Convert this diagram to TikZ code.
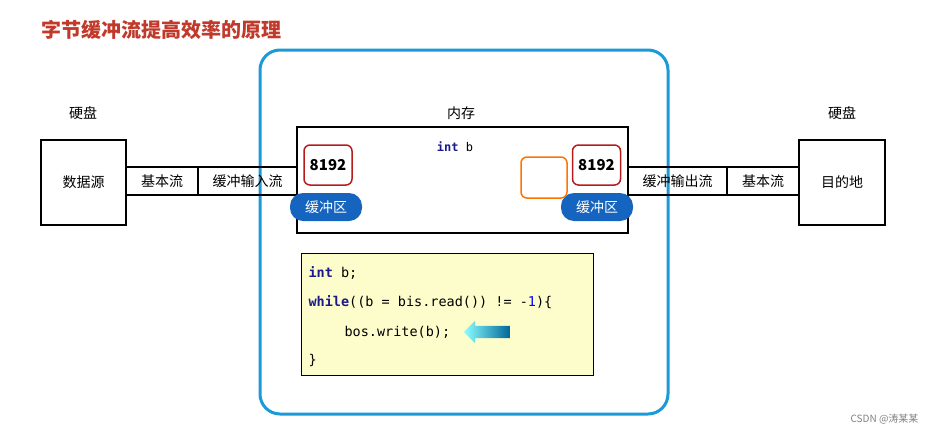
\documentclass[tikz,border=0pt]{standalone}
\usepackage{fontspec}
\setmainfont{Noto Sans CJK SC}
\setmonofont{DejaVu Sans Mono}
\usetikzlibrary{arrows.meta,shapes.arrows}
\definecolor{titlered}{HTML}{C0392B}
\definecolor{memblue}{HTML}{1A9AD6}
\definecolor{pillblue}{HTML}{1565C0}
\definecolor{bufred}{HTML}{B71C1C}
\definecolor{codebg}{HTML}{FDFCCB}
\definecolor{kw}{HTML}{1A1A8C}
\tikzset{
  box/.style={draw,line width=1.5pt,inner sep=0pt},
  label/.style={font=\fontsize{14}{16}\selectfont},
  buf/.style={draw=bufred,line width=1.5pt,rounded corners=6pt,minimum width=48pt,minimum height=40pt,font=\fontsize{15}{17}\selectfont\bfseries},
  pill/.style={fill=pillblue,text=white,rounded corners=13pt,minimum width=72pt,minimum height=28pt,font=\fontsize{14}{16}\selectfont},
  code/.style={anchor=west,font=\ttfamily\fontsize{13.5}{15}\selectfont}
}
\begin{document}
\begin{tikzpicture}[x=1pt,y=-1pt]
\useasboundingbox (0,0) rectangle (927,437);

\node[anchor=west,text=titlered,font=\fontsize{20}{24}\selectfont\bfseries] (title) at (38,30) {字节缓冲流提高效率的原理};

% memory region
\draw[memblue,line width=3pt,rounded corners=20pt] (260,50) rectangle (668,414);
\node[label] (mem) at (461,113) {内存};
\draw[box] (297,127) rectangle (628,233);
\node[font=\ttfamily\fontsize{12}{14}\selectfont] (intb) at (455,147) {\textcolor{kw}{\textbf{int}} b};

% left side
\node[label] (diskL) at (83,113) {硬盘};
\node[box,label,minimum width=85pt,minimum height=85pt] (src) at (83.5,182.5) {数据源};
\node[box,label,minimum width=72pt,minimum height=28pt] (bsL) at (162,181) {基本流};
\node[box,label,minimum width=99pt,minimum height=28pt] (bis) at (247.5,181) {缓冲输入流};

% right side
\node[label] (diskR) at (842,113) {硬盘};
\node[box,label,minimum width=86pt,minimum height=85pt] (dst) at (842,182.5) {目的地};
\node[box,label,minimum width=72pt,minimum height=28pt] (bsR) at (763,181) {基本流};
\node[box,label,minimum width=99pt,minimum height=28pt] (bos) at (677.5,181) {缓冲输出流};

% buffers
\node[buf,fill=white] (bufL) at (328,165) {8192};
\node[pill] (pillL) at (326,207) {缓冲区};
\node[buf,fill=white] (bufR) at (596.5,165) {8192};
\node[pill] (pillR) at (597,207) {缓冲区};
\node[draw=orange!90!red,line width=1.5pt,rounded corners=6pt,minimum width=46pt,minimum height=41pt] (cur) at (544,177.5) {};

% code
\draw[fill=codebg,line width=0.8pt] (301,253) rectangle (593,375);
\node[code] (c1) at (305,273) {\textcolor{kw}{\textbf{int}} b;};
\node[code] (c2) at (305,302) {\textcolor{kw}{\textbf{while}}((b = bis.read()) != -\textcolor{blue}{1})\{};
\node[code] (c3) at (341,332) {bos.write(b);};
\node[code] (c4) at (305,360) {\}};
\node[single arrow,shape border rotate=180,left color=cyan!45,right color=teal!80!blue,minimum height=46pt,inner sep=6pt,single arrow head extend=5pt] (arr) at (490,332) {};

\node[anchor=east,text=gray,font=\fontsize{10}{12}\selectfont] (mark) at (922,419) {CSDN @涛某某};
\end{tikzpicture}
\end{document}
